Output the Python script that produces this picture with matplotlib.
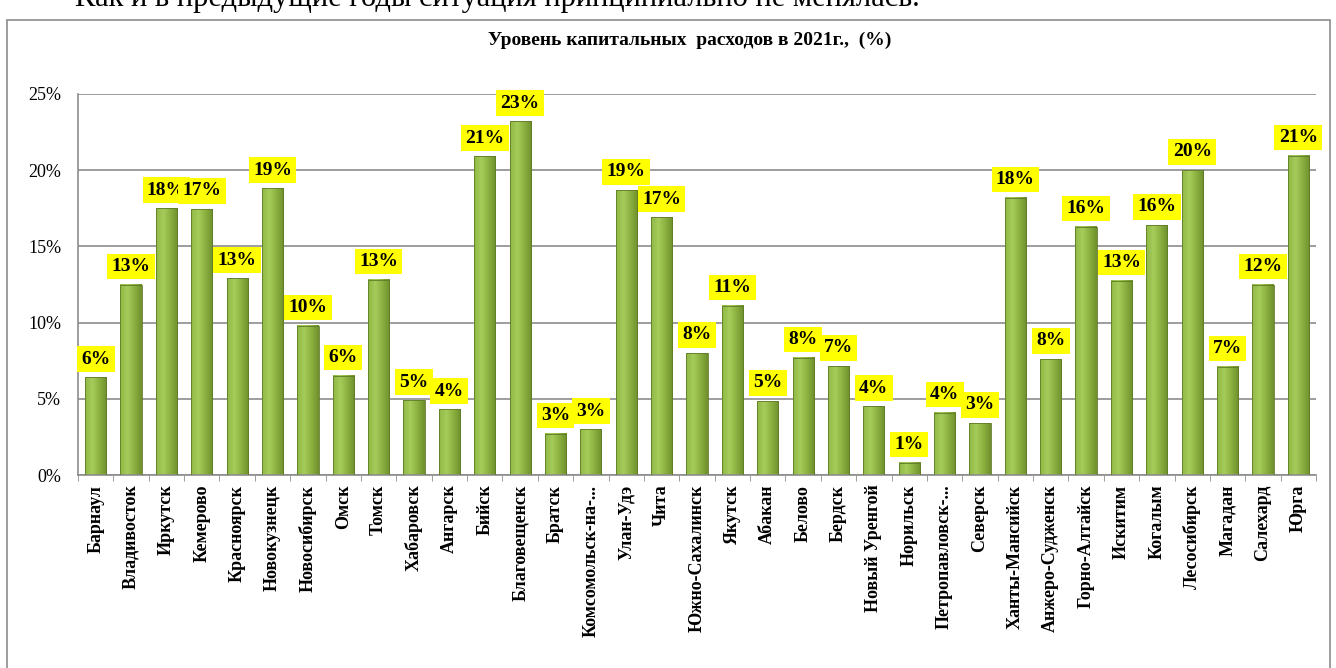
import numpy as np
import matplotlib
matplotlib.use("Agg")
import matplotlib.pyplot as plt
from matplotlib.patches import Rectangle
from matplotlib.colors import LinearSegmentedColormap

plt.rcParams['font.family'] = ['Liberation Serif', 'DejaVu Serif']

# данные
cities = ['Барнаул', 'Владивосток', 'Иркутск', 'Кемерово', 'Красноярск', 'Новокузнецк',
          'Новосибирск', 'Омск', 'Томск', 'Хабаровск', 'Ангарск', 'Бийск', 'Благовещенск',
          'Братск', 'Комсомольск-на-...', 'Улан-Удэ', 'Чита', 'Южно-Сахалинск', 'Якутск',
          'Абакан', 'Белово', 'Бердск', 'Новый Уренгой', 'Норильск', 'Петропавловск-...',
          'Северск', 'Ханты-Мансийск', 'Анжеро-Судженск', 'Горно-Алтайск', 'Искитим',
          'Когалым', 'Лесосибирск', 'Магадан', 'Салехард', 'Юрга']
values = [6.4, 12.5, 17.5, 17.45, 12.9, 18.8, 9.8, 6.5, 12.8, 4.9, 4.3, 20.9, 23.2,
          2.7, 3.0, 18.7, 16.9, 8.0, 11.1, 4.85, 7.7, 7.15, 4.5, 0.8, 4.1, 3.4, 18.2,
          7.6, 16.3, 12.75, 16.4, 20.0, 7.1, 12.5, 20.95]
labels = ['6%', '13%', '18%', '17%', '13%', '19%', '10%', '6%', '13%', '5%', '4%', '21%',
          '23%', '3%', '3%', '19%', '17%', '8%', '11%', '5%', '8%', '7%', '4%', '1%', '4%',
          '3%', '18%', '8%', '16%', '13%', '16%', '20%', '7%', '12%', '21%']
yticks = [0, 5, 10, 15, 20, 25]

fig = plt.figure(figsize=(13.36, 6.68), dpi=100)

# рамка диаграммы и обрезанный текст сверху
fig.patches.append(Rectangle((7/1336, -0.01), 1323/1336, 1 - 20/668 + 0.01,
                             transform=fig.transFigure, fill=False, ec='#8c8c8c', lw=1.2))
fig.text(75/1336, 1 - 6/668, 'Как и в предыдущие годы ситуация принципиально не менялась.',
         fontsize=22, va='baseline', ha='left')
fig.text(690/1336, 1 - 40/668, 'Уровень капитальных  расходов в 2021г.,  (%)',
         fontsize=14, fontweight='bold', ha='center', va='center')

ax = fig.add_axes([78/1336, 1 - 475/668, 1238/1336, 381/668])
x = np.arange(len(cities))
w = 0.6

cmap = LinearSegmentedColormap.from_list('g', ['#8fb844', '#a6cc5a', '#8bb040', '#6e8f2c'])
grad = np.linspace(0, 1, 64).reshape(1, -1)
bars = ax.bar(x, values, width=w, color='none', edgecolor='#5f7a26', lw=0.6, zorder=3)
for b in bars:
    x0, y0 = b.get_x(), b.get_y()
    ax.imshow(grad, cmap=cmap, aspect='auto', zorder=2,
              extent=[x0, x0 + b.get_width(), y0, y0 + b.get_height()])

for xi, v, lab in zip(x, values, labels):
    ax.annotate(lab, (xi, v), xytext=(0, 7), textcoords='offset points',
                ha='center', va='bottom', fontsize=14, fontweight='bold',
                bbox=dict(boxstyle='square,pad=0.22', fc='#ffff00', ec='none'), zorder=5)

ax.set_xlim(-0.5, len(cities) - 0.5)
ax.set_ylim(0, 25)
ax.set_yticks(yticks)
ax.set_yticklabels([f'{t}%' for t in yticks], fontsize=13)
ax.yaxis.grid(True, color='#8c8c8c', lw=1.2, zorder=0)
ax.set_axisbelow(True)
ax.set_xticks(x)
ax.set_xticklabels(cities, rotation=90, fontsize=13, fontweight='bold')
ax.set_xticks(np.arange(-0.5, len(cities)), minor=True)
ax.tick_params(axis='x', which='major', length=0, pad=7)
ax.tick_params(axis='x', which='minor', length=4, color='#8c8c8c')
ax.tick_params(axis='y', length=0, pad=12)
for s in ['top', 'right']:
    ax.spines[s].set_visible(False)
ax.spines['left'].set_color('#8c8c8c')
ax.spines['bottom'].set_color('#8c8c8c')
ax.spines['left'].set_linewidth(1.2)
ax.spines['bottom'].set_linewidth(1.2)

fig.savefig('out.png', dpi=100)
